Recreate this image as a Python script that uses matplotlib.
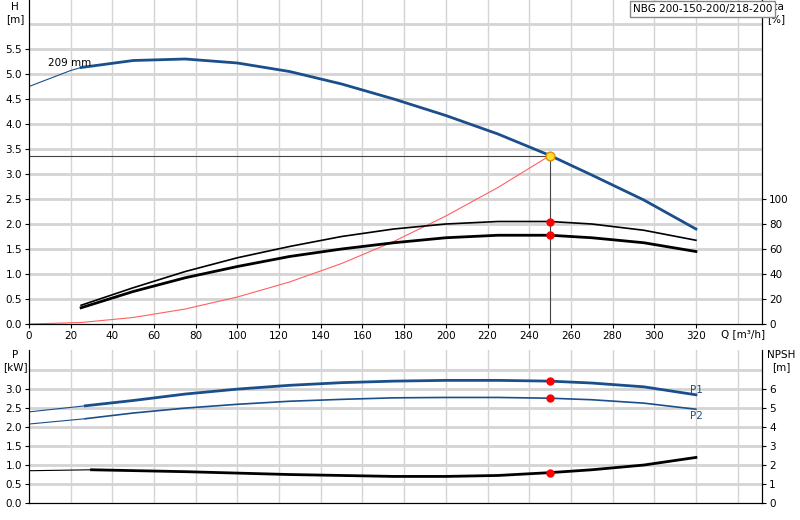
import matplotlib
matplotlib.use("Agg")
import matplotlib.pyplot as plt

q_h = [0, 20, 25, 50, 75, 100, 125, 150, 175, 200, 225, 250, 270, 295, 320]
h_vals = [4.75, 5.07, 5.13, 5.27, 5.30, 5.22, 5.05, 4.80, 4.50, 4.17, 3.80, 3.37, 2.98, 2.48, 1.90]
q_eta = [25, 50, 75, 100, 125, 150, 175, 200, 225, 250, 270, 295, 320]
eta1 = [15, 29, 42, 53, 62, 70, 76, 80, 82, 82, 80, 75, 67]
eta2 = [13, 26, 37, 46, 54, 60, 65, 69, 71, 71, 69, 65, 58]
q_sys = [0, 25, 50, 75, 100, 125, 150, 175, 200, 225, 250]
h_sys = [0, 0.03, 0.13, 0.30, 0.54, 0.84, 1.21, 1.65, 2.16, 2.73, 3.37]
q_p = [0, 27, 50, 75, 100, 125, 150, 175, 200, 225, 250, 270, 295, 320]
p1 = [2.40, 2.56, 2.70, 2.87, 3.00, 3.10, 3.17, 3.21, 3.23, 3.23, 3.21, 3.16, 3.06, 2.85]
p2 = [2.08, 2.22, 2.37, 2.50, 2.60, 2.68, 2.73, 2.77, 2.78, 2.78, 2.76, 2.72, 2.63, 2.47]
q_npsh = [0, 30, 75, 125, 175, 200, 225, 250, 270, 295, 320]
npsh = [1.70, 1.75, 1.65, 1.50, 1.40, 1.40, 1.45, 1.60, 1.75, 2.00, 2.40]
duty_q, duty_h = 250, 3.37
duty_eta = [82, 71]
duty_p = [3.21, 2.76]
duty_npsh = 1.60
x_ticks = list(range(0, 321, 20))
title = "NBG 200-150-200/218-200"

BLUE = "#1a4f8b"
GRID = "#d4d4d4"
FS = 7.5
fig = plt.figure(figsize=(8, 5.2), dpi=100)
L, R = 29/800, 762/800
ax = fig.add_axes([L, 196/520, R-L, 324/520])
axb = fig.add_axes([L, 17/520, R-L, 153/520])
xmax = 351.7

def thin_thick(a, x, y, start, color, lw):
    i = x.index(start)
    a.plot(x[:i+1], y[:i+1], color=color, lw=0.8)
    a.plot(x[i:], y[i:], color=color, lw=lw)

for a in (ax, axb):
    a.set_xlim(0, xmax)
    a.set_xticks(x_ticks)
    for xv in range(20, 341, 20):
        a.axvline(xv, color=GRID, lw=1, zorder=0)
    a.spines['top'].set_visible(False)
    a.tick_params(labelsize=FS, length=3, pad=2)

# top
ax.set_ylim(0, 6.48)
ax.set_yticks([i*0.5 for i in range(12)])
ax.set_yticklabels([f"{i*0.5:.1f}" for i in range(12)])
for yv in [i*0.5 for i in range(1, 13)]:
    ax.axhline(yv, color=GRID, lw=2, zorder=0)
fig.text(15/800, 1-2/520, "H\n[m]", fontsize=FS, ha='center', va='top')
thin_thick(ax, q_h, h_vals, 25, BLUE, 2)
ax.text(9, 5.15, "209 mm", fontsize=FS)
ax.plot(q_sys, h_sys, color="#ff6060", lw=0.8)
ax.plot([0, duty_q], [duty_h, duty_h], color="#444", lw=0.8)
ax.plot([duty_q, duty_q], [0, duty_h], color="#444", lw=0.8)
ax.set_xticklabels([str(v) for v in x_ticks])
ax.text(332, -0.1, "Q [m³/h]", fontsize=FS, va='top')
axe = ax.twinx()
axe.set_ylim(0, 6.48*40)
axe.set_yticks(range(0, 101, 20))
axe.tick_params(labelsize=FS, length=3, pad=2)
axe.spines['top'].set_visible(False)
axe.plot(q_eta, eta1, color="black", lw=1.2)
axe.plot(q_eta, eta2, color="black", lw=2)
axe.scatter([duty_q]*2, duty_eta, color="red", s=25, zorder=5)
axe.scatter([duty_q], [duty_h*40], color="#ffdd33", edgecolor="#e09000", s=40, zorder=6)
fig.text(767/800, 1-2/520, "eta\n[%]", fontsize=FS, va='top')
fig.text(633/800, 1-4/520, title, fontsize=FS, va='top',
         bbox=dict(facecolor='white', edgecolor='#888', pad=2))

# bottom
axb.set_ylim(0, 4.03)
axb.set_yticks([i*0.5 for i in range(7)])
axb.set_yticklabels([f"{i*0.5:.1f}" for i in range(7)])
axb.set_xticklabels([])
axb.tick_params(axis='x', length=0)
for yv in [i*0.5 for i in range(1, 8)]:
    axb.axhline(yv, color=GRID, lw=2, zorder=0)
fig.text(15/800, 1-350/520, "P\n[kW]", fontsize=FS, ha='center', va='top')
thin_thick(axb, q_p, p1, 27, BLUE, 2)
thin_thick(axb, q_p, p2, 27, BLUE, 1.2)
axb.scatter([duty_q]*2, duty_p, color="red", s=25, zorder=5)
axb.text(317, 2.9, "P1", color=BLUE, fontsize=FS)
axb.text(317, 2.22, "P2", color=BLUE, fontsize=FS)
axn = axb.twinx()
axn.set_ylim(0, 8.06)
axn.set_yticks(range(0, 7))
axn.tick_params(labelsize=FS, length=3, pad=2)
axn.spines['top'].set_visible(False)
thin_thick(axn, q_npsh, npsh, 30, "black", 2)
axn.scatter([duty_q], [duty_npsh], color="red", s=25, zorder=5)
fig.text(781/800, 1-350/520, "NPSH\n[m]", fontsize=FS, ha='center', va='top')

fig.savefig("out.png", dpi=100)
